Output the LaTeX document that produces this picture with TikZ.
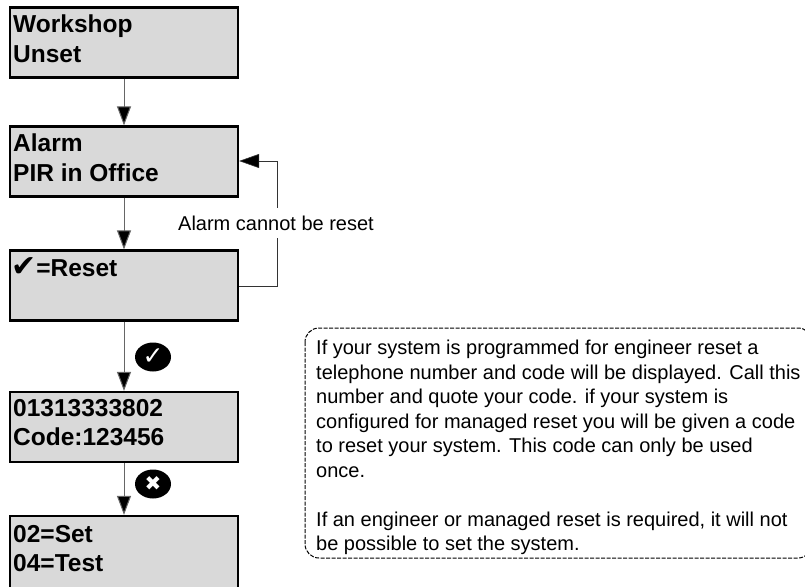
\documentclass[tikz,border=0pt]{standalone}
\usepackage{fontspec}
\setmainfont{Liberation Sans}
\newfontfamily\symfont{DejaVu Sans}
\usetikzlibrary{arrows.meta,shapes.geometric}
\tikzset{
  lcdbox/.style={draw=black, line width=2.2pt, fill=black!15, minimum width=228pt, minimum height=70pt, inner sep=0pt},
  lcdtext/.style={anchor=north west, align=left, inner sep=0pt, font=\bfseries\fontsize{24.5pt}{29.5pt}\selectfont},
  flow/.style={draw=black!60, line width=1pt, -{Triangle[length=19pt,width=14pt,fill=black]}},
  back/.style={draw=black!80, line width=0.6pt},
  keyspot/.style={ellipse, fill=black, minimum width=36pt, minimum height=29pt, inner sep=0pt, text=white, font=\symfont\bfseries\fontsize{25pt}{25pt}\selectfont}
}
\begin{document}
\begin{tikzpicture}[x=1pt,y=-1pt]
  \useasboundingbox (0,0) rectangle (805,586);
  % display boxes
  \node[lcdbox] (workshop) at (124,42.5) {};
  \node[lcdbox] (alarm) at (124,161.5) {};
  \node[lcdbox] (reset) at (124,285.5) {};
  \node[lcdbox] (phone) at (124,427) {};
  \node[lcdbox, minimum height=80pt] (menu) at (124,556) {};
  \node[lcdtext] (workshoptext) at (13,15) {Workshop\\Unset};
  \node[lcdtext] (alarmtext) at (13,134) {Alarm\\PIR in Office};
  \node[lcdtext] (resettext) at (11,257) {{\symfont\fontsize{30pt}{29.5pt}\selectfont\char"2714}=Reset};
  \node[lcdtext] (phonetext) at (13,399) {01313333802\\Code:123456};
  \node[lcdtext] (menutext) at (13,525) {02=Set\\04=Test};
  % arrows down
  \draw[flow] (workshop) -- (alarm);
  \draw[flow] (alarm) -- (reset);
  \draw[flow] (reset) -- (phone);
  \draw[flow] (phone) -- (menu);
  % way back
  \node[font=\fontsize{20pt}{22pt}\selectfont, inner sep=0pt, minimum height=30pt] (cannot) at (276,223) {Alarm cannot be reset};
  \coordinate (turnlow) at (277,286);
  \coordinate (turnhigh) at (277,161);
  \draw[back] (reset.east |- turnlow) -- (turnlow) -- (cannot.south -| turnlow);
  \draw[back] (cannot.north -| turnhigh) -- (turnhigh);
  \draw[back, -{Triangle[length=20pt,width=14pt,fill=black]}] (turnhigh) -- (alarm.east |- turnhigh);
  % keys
  \node[keyspot] (tick) at (153,357) {\char"2713};
  \node[keyspot, font=\symfont\fontsize{20pt}{20pt}\selectfont] (cross) at (153,484) {\char"2716};
  % note
  \draw[black, line width=1pt, dash pattern=on 4pt off 1.5pt, rounded corners=14pt] (305,328) rectangle (812,558);
  \node[anchor=north west, align=left, inner sep=0pt, font=\fontsize{20pt}{24.5pt}\selectfont] (note) at (316,340) {If your system is programmed for engineer reset a\\telephone number and code will be displayed. Call this\\number and quote your code. if your system is\\configured for managed reset you will be given a code\\to reset your system. This code can only be used\\once.\\[24.5pt]If an engineer or managed reset is required, it will not\\be possible to set the system.};
\end{tikzpicture}
\end{document}
